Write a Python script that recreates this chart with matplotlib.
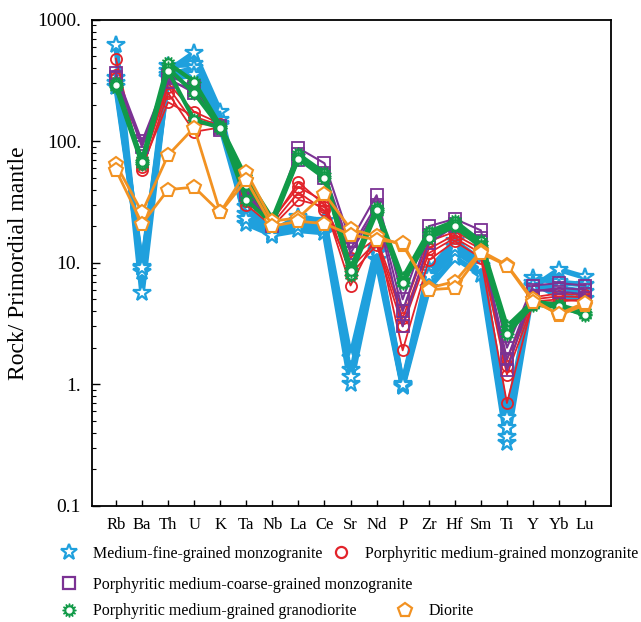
import numpy as np
import matplotlib
matplotlib.use("Agg")
import matplotlib.pyplot as plt
from matplotlib.lines import Line2D
from matplotlib.ticker import FixedLocator, LogLocator, NullFormatter

plt.rcParams["font.family"] = ["Liberation Serif", "DejaVu Serif"]

elements = ["Rb", "Ba", "Th", "U", "K", "Ta", "Nb", "La", "Ce", "Sr",
            "Nd", "P", "Zr", "Hf", "Sm", "Ti", "Y", "Yb", "Lu"]

# Medium-fine-grained monzogranite
fine_mzg = [
    [622, 5.6, 380, 535, 175, 21, 17, 18.5, 17.7, 1.0, 10.6, 0.95, 6.2, 11, 8.0, 0.33, 6.3, 8.8, 7.6],
    [330, 8.4, 420, 430, 150, 25, 17.5, 20, 19, 1.3, 12, 0.97, 7.3, 12.5, 9.0, 0.37, 7.5, 6.9, 6.6],
    [300, 9.3, 350, 400, 140, 29, 18, 24, 22, 1.65, 13.3, 1.0, 8.7, 15, 10.5, 0.44, 6.8, 5.3, 5.0],
    [280, 9.0, 330, 350, 135, 23, 16.5, 22, 20.5, 1.15, 12.5, 0.98, 7.8, 13.5, 9.5, 0.53, 6.5, 6.2, 5.8],
]
# Porphyritic medium-grained monzogranite
por_med_mzg = [
    [480, 58, 250, 120, 130, 35, 22, 46, 30, 6.5, 17, 1.9, 10.5, 15, 11, 0.7, 4.8, 5.0, 4.8],
    [330, 62, 210, 160, 135, 32, 21, 38, 27, 9.0, 15, 3.5, 13, 17, 13, 1.4, 5.0, 5.3, 5.2],
    [300, 70, 300, 175, 140, 30, 20, 33, 29, 11, 16, 4.0, 15, 18, 14, 1.6, 5.2, 5.6, 5.4],
    [350, 65, 280, 140, 135, 38, 23, 42, 32, 8.0, 14, 3.0, 12, 16, 12, 1.2, 4.6, 4.8, 5.0],
]
# Porphyritic medium-coarse-grained monzogranite
por_coarse_mzg = [
    [365, 100, 350, 280, 135, 40, 21, 88, 66, 15, 36, 5.0, 20, 23, 18.5, 2.0, 6.5, 6.8, 6.5],
    [340, 90, 330, 250, 130, 38, 20, 78, 50, 12, 28, 3.0, 14.5, 20, 16, 1.3, 5.8, 6.2, 6.0],
    [330, 95, 310, 270, 125, 36, 21, 70, 55, 13, 30, 4.0, 17, 21, 15, 1.6, 6.0, 5.8, 5.5],
]
# Porphyritic medium-grained granodiorite
granodiorite = [
    [300, 70, 440, 310, 135, 50, 23, 78, 55, 9.0, 28, 7.5, 18, 22, 15, 3.0, 4.8, 4.5, 3.9],
    [280, 65, 400, 250, 130, 44, 22, 74, 52, 8.0, 26, 7.0, 17, 21, 14, 2.8, 4.6, 4.3, 3.8],
    [290, 68, 380, 150, 130, 33, 21, 72, 50, 8.5, 27, 6.8, 16, 20, 13.5, 2.6, 4.5, 4.4, 3.7],
]
# Diorite
diorite = [
    [65, 26, 77, 130, 26, 56, 22, 23.5, 37, 19, 16.5, 14, 6.2, 7.0, 12.5, 9.6, 5.0, 3.7, 4.5],
    [58, 21, 40, 42, 26, 48, 20, 22, 21, 17, 15.5, 14.5, 6.0, 6.2, 12, 9.5, 4.8, 3.8, 4.7],
]

BLUE, RED, PURPLE, GREEN, ORANGE = "#1FA0DD", "#E2232A", "#7B3294", "#119A48", "#F29222"

x = np.arange(len(elements))
fig = plt.figure(figsize=(6.41, 6.22), dpi=100)
ax = fig.add_axes([0.1435, 0.187, 0.81, 0.781])

for s in fine_mzg:
    ax.plot(x, s, color=BLUE, lw=4, marker="*", ms=13, mfc="white", mec=BLUE, mew=1.6, zorder=2)
for s in por_med_mzg:
    ax.plot(x, s, color=RED, lw=1.3, marker="o", ms=8, mfc="none", mec=RED, mew=1.3, zorder=3)
for s in por_coarse_mzg:
    ax.plot(x, s, color=PURPLE, lw=1.5, marker="s", ms=8, mfc="none", mec=PURPLE, mew=1.3, zorder=3)
for s in granodiorite:
    ax.plot(x, s, color=GREEN, lw=3, marker=(12, 1, 0), ms=10, mfc=GREEN, mec=GREEN, zorder=4)
    ax.plot(x, s, ls="none", marker="o", ms=3.5, mfc="white", mec="white", zorder=4)
for s in diorite:
    ax.plot(x, s, color=ORANGE, lw=2, marker="p", ms=10, mfc="white", mec=ORANGE, mew=1.5, zorder=5)

ax.set_yscale("log")
ax.set_ylim(0.1, 1000)
ax.set_xlim(-0.92, 19.0)
ax.yaxis.set_major_locator(FixedLocator([0.1, 1, 10, 100, 1000]))
ax.set_yticklabels(["0.1", "1.", "10.", "100.", "1000."])
ax.yaxis.set_minor_locator(LogLocator(base=10, subs=np.arange(2, 10)))
ax.yaxis.set_minor_formatter(NullFormatter())
ax.set_xticks(x)
ax.set_xticklabels(elements)
ax.tick_params(axis="y", which="major", direction="in", length=6, width=1, labelsize=14, pad=8)
ax.tick_params(axis="y", which="minor", direction="in", length=3, width=0.8)
ax.tick_params(axis="x", direction="in", length=4, width=1, labelsize=12, pad=8)
for sp in ax.spines.values():
    sp.set_linewidth(1.3)
ax.set_ylabel("Rock/ Primordial mantle", fontsize=17, labelpad=6)

# legend entries: handle, label, left edge (fig frac), centre y (fig frac)
entries = [
    (Line2D([], [], ls="none", marker="*", ms=12, mfc="white", mec=BLUE, mew=1.6),
     "Medium-fine-grained monzogranite", 0.093, 0.110),
    (Line2D([], [], ls="none", marker="o", ms=8, mfc="none", mec=RED, mew=1.6),
     "Porphyritic medium-grained monzogranite", 0.517, 0.110),
    (Line2D([], [], ls="none", marker="s", ms=8, mfc="none", mec=PURPLE, mew=1.6),
     "Porphyritic medium-coarse-grained monzogranite", 0.093, 0.060),
    ((Line2D([], [], ls="none", marker=(12, 1, 0), ms=10, mfc=GREEN, mec=GREEN),
      Line2D([], [], ls="none", marker="o", ms=3.5, mfc="white", mec="white")),
     "Porphyritic medium-grained granodiorite", 0.093, 0.017),
    (Line2D([], [], ls="none", marker="p", ms=10, mfc="white", mec=ORANGE, mew=1.6),
     "Diorite", 0.617, 0.017),
]
for h, lab, lx, ly in entries:
    fig.legend([h], [lab], loc="center left", bbox_to_anchor=(lx, ly),
               frameon=False, fontsize=11.5, handlelength=1.2, handletextpad=0.9,
               borderpad=0, borderaxespad=0)

fig.savefig("out.png", dpi=100)
